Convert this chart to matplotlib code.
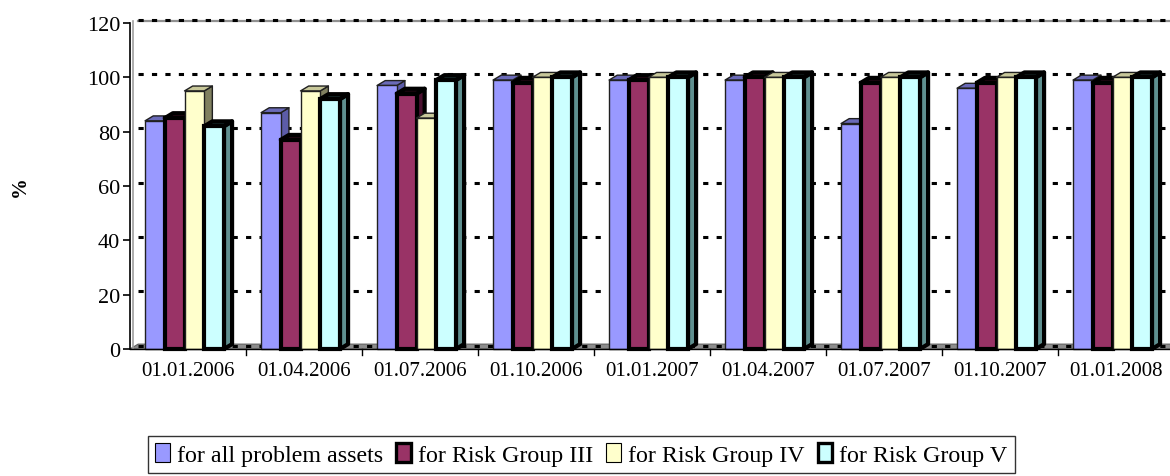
"""
Share of problem assets covered by reserves, by risk group (Excel-style 3D columns).
"""
import matplotlib
matplotlib.use("Agg")
import matplotlib.pyplot as plt
from matplotlib.patches import Polygon, Patch
import numpy as np

plt.rcParams['font.family'] = ['Liberation Serif', 'DejaVu Serif']

dates = ['01.01.2006', '01.04.2006', '01.07.2006', '01.10.2006', '01.01.2007',
         '01.04.2007', '01.07.2007', '01.10.2007', '01.01.2008']

all_assets = [84, 87, 97, 99, 99, 99, 83, 96, 99]
group_iii = [85, 77, 94, 98, 99, 100, 98, 98, 98]
group_iv = [95, 95, 85, 100, 100, 100, 100, 100, 100]
group_v = [82, 92, 99, 100, 100, 100, 100, 100, 100]

series_names = ['for all problem assets', 'for Risk Group III',
                'for Risk Group IV', 'for Risk Group V']
series = [all_assets, group_iii, group_iv, group_v]

# front / top / side colours and border of each series
front = ['#9999ff', '#993366', '#ffffcc', '#ccffff']
top = ['#6a6ab8', '#2a0a18', '#c8c89a', '#1a3030']
side = ['#5c5ca8', '#4a1030', '#808060', '#5f8f8f']
edge = ['#202020', 'black', '#202020', 'black']
edge_w = [1.0, 3.0, 1.0, 3.0]

bar_w = 0.17
offsets = [-0.37, -0.20, -0.03, 0.14]
dx, dy = 0.07, 1.8   # depth of the 3D effect in data units

fig = plt.figure(figsize=(11.70, 4.77), dpi=100)
ax = fig.add_axes([130 / 1170, 127 / 477, 1044 / 1170, 326 / 477])
ax.set_xlim(-0.5, len(dates) - 0.5)
ax.set_ylim(0, 120)

# floor of the chart
floor = Polygon([(-0.5, 0), (-0.5 + dx, dy), (len(dates) - 0.5 + dx, dy),
                 (len(dates) - 0.5, 0)], closed=True, facecolor='#8c8c8c',
                edgecolor='#606060', lw=0.8, zorder=1, clip_on=False)
ax.add_patch(floor)

# back wall gridlines (dashed, shifted by depth)
for v in range(0, 121, 20):
    ax.plot([-0.5 + dx, len(dates) - 0.5 + dx], [v + dy - 0.6, v + dy - 0.6],
            color='black', lw=2.2, linestyle=(0, (1.7, 2.7)),
            zorder=1.5, clip_on=False, solid_capstyle='butt')

# wall border lines
ax.plot([-0.5 + dx, len(dates) - 0.5 + dx], [120 + dy - 1.0, 120 + dy - 1.0],
        color='#909090', lw=1.6, zorder=1.4, clip_on=False)
ax.plot([-0.5 + dx * 0.4, -0.5 + dx * 0.4], [0.5, 120 + dy - 1.0],
        color='#a0a0a0', lw=1.2, zorder=1.4, clip_on=False)

x = np.arange(len(dates))
for k, vals in enumerate(series):
    z = 3 + k
    for i, h in enumerate(vals):
        x0 = x[i] + offsets[k]
        x1 = x0 + bar_w
        ax.add_patch(Polygon([(x1, 0), (x1 + dx, dy), (x1 + dx, h + dy), (x1, h)],
                             closed=True, facecolor=side[k], edgecolor=edge[k],
                             lw=edge_w[k], zorder=z, clip_on=False,
                             joinstyle='round'))
        ax.add_patch(Polygon([(x0, h), (x0 + dx, h + dy), (x1 + dx, h + dy), (x1, h)],
                             closed=True, facecolor=top[k], edgecolor=edge[k],
                             lw=edge_w[k], zorder=z, clip_on=False,
                             joinstyle='round'))
    ax.bar(x + offsets[k], vals, width=bar_w, align='edge', color=front[k],
           edgecolor=edge[k], linewidth=edge_w[k], zorder=z + 0.5, clip_on=False)

for s in ['top', 'right', 'bottom']:
    ax.spines[s].set_visible(False)
ax.spines['left'].set_linewidth(1.2)
ax.spines['left'].set_zorder(10)

ax.set_yticks(range(0, 121, 20))
ax.tick_params(axis='y', length=5, width=1.2, labelsize=16, pad=2)
ax.set_xticks(x)
ax.set_xticklabels(dates)
ax.tick_params(axis='x', length=0, labelsize=15, pad=9)
# category separators on the baseline
for b in x[:-1] + 0.5:
    ax.plot([b, b], [0, -2.2], color='black', lw=1.0, clip_on=False, zorder=10)
ax.plot([-0.5, len(dates) - 0.5], [0, 0], color='black', lw=1.0,
        clip_on=False, zorder=10)

fig.text(20 / 1170, 1 - 187 / 477, '%', rotation=90, fontsize=15,
         fontweight='bold', ha='center', va='center')

handles = [Patch(facecolor=front[k], edgecolor='black', lw=edge_w[k] * 0.8)
           for k in range(4)]
leg = fig.legend(handles, series_names, ncol=4, loc='upper left',
                 bbox_to_anchor=(148 / 1170, 1 - 437 / 477),
                 frameon=True, fancybox=False, fontsize=17.3,
                 handlelength=0.6, handleheight=0.85, handletextpad=0.3,
                 columnspacing=0.55, borderpad=0.3, borderaxespad=0)
leg.get_frame().set_edgecolor('black')
leg.get_frame().set_linewidth(1.0)

fig.savefig('out.png', dpi=100)
